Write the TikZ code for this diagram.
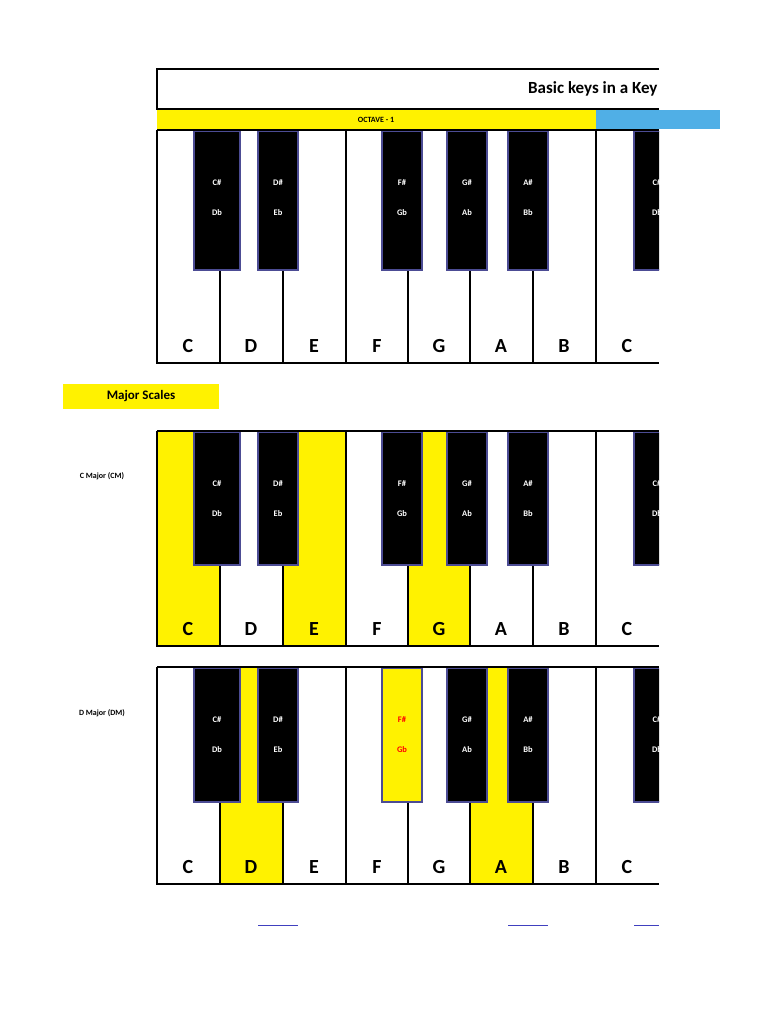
\documentclass[tikz,border=0pt]{standalone}
\usepackage{fontspec}
\setmainfont{Carlito}
\begin{document}
\begin{tikzpicture}[x=1pt,y=-1pt,
  bk/.style={fill=black,draw=black!60!blue!70,line width=1.2pt},
  wl/.style={line width=1.3pt},
  frame/.style={line width=2.2pt},
  lbl/.style={font=\bfseries\fontsize{20}{22}\selectfont},
  blbl/.style={font=\bfseries\fontsize{8.5}{10}\selectfont,text=white},
  yel/.style={fill=yellow}]
\useasboundingbox (0,0) rectangle (768,1024);
% Title
\node[draw=none] (tbox) at (408,89) {};
\draw[frame] (659,69) -- (157,69) -- (157,109) -- (659,109);
\node[anchor=east,font=\bfseries\fontsize{17}{20}\selectfont] (title) at (661,89) {Basic keys in a Key};
\fill[yellow] (157,110) rectangle (596,129);
\fill[cyan!80!blue!70] (596,110) rectangle (720,129);
\node[font=\bfseries\fontsize{8}{10}\selectfont] (oct) at (376,120) {OCTAVE - 1};
% Major scales label
\fill[yellow] (63,384) rectangle (219,409);
\node[font=\bfseries\fontsize{13}{15}\selectfont] (ms) at (141,396) {Major Scales};
\node[font=\bfseries\fontsize{8}{10}\selectfont] (cm) at (102,476) {C Major (CM)};
\node[font=\bfseries\fontsize{8}{10}\selectfont] (dm) at (102,713) {D Major (DM)};
% keyboard macro: #1 top, #2 bottom, #3 black bottom, #4 label offset, #5 yellow white keys list, #6 Fsharp yellow
\newcommand{\kbd}[6]{%
  \foreach \xa/\xb in {#5}{\fill[yellow] (\xa,#1) rectangle (\xb,#2);}
  \draw[frame] (157,#1) -- (157,#2) -- (659,#2);
  \draw[frame] (157,#1) -- (659,#1);
  \draw[wl] (346,#1) -- (346,#2);
  \draw[wl] (596,#1) -- (596,#2);
  \foreach \x in {220,283,408,470,533}{\draw[wl] (\x,#3) -- (\x,#2);}
  \foreach \n/\x in {C/188,D/251,E/314,F/377,G/439,A/501,B/564,C/627}{\node[lbl] at (\x,#2-17) {\n};}
  \foreach \xa/\xb/\s/\f in {194/240/C\#/Db,258/298/D\#/Eb,447/487/G\#/Ab,508/548/A\#/Bb}{
    \draw[bk] (\xa,#1+1.5) rectangle (\xb,#3);
    \node[blbl] at ({(\xa+\xb)/2},#1+#4) {\s};
    \node[blbl] at ({(\xa+\xb)/2},#1+#4+30) {\f};}
  \ifnum#6=1
    \draw[bk,fill=yellow] (382,#1+1.5) rectangle (422,#3);
    \node[blbl,text=red] at (402,#1+#4) {F\#};
    \node[blbl,text=red] at (402,#1+#4+30) {Gb};
  \else
    \draw[bk] (382,#1+1.5) rectangle (422,#3);
    \node[blbl] at (402,#1+#4) {F\#};
    \node[blbl] at (402,#1+#4+30) {Gb};
  \fi
  \begin{scope}
  \clip (600,#1) rectangle (659,#2);
  \draw[bk] (634,#1+1.5) rectangle (680,#3);
  \node[blbl] at (657,#1+#4) {C\#};
  \node[blbl] at (657,#1+#4+30) {Db};
  \end{scope}
}
\kbd{130}{363}{270}{53}{}{0}
\kbd{431}{646}{565}{53}{157/220,283/346,408/470}{0}
\kbd{667}{884}{802}{53}{220/283,470/533}{1}
% small blue lines
\draw[blue!50!gray,line width=1pt] (258,925) -- (298,925);
\draw[blue!50!gray,line width=1pt] (508,925) -- (548,925);
\draw[blue!50!gray,line width=1pt] (634,925) -- (659,925);
\end{tikzpicture}
\end{document}
